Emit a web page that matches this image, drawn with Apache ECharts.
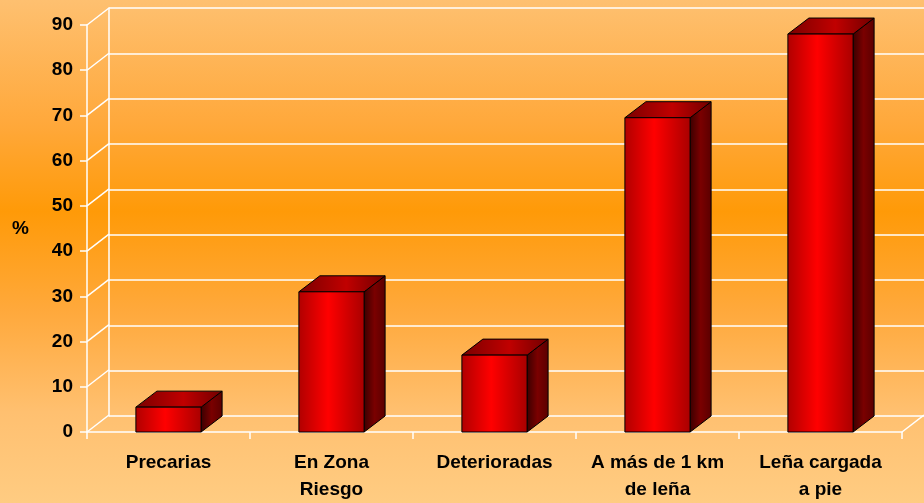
<!DOCTYPE html>
<html>
<head>
<meta charset="utf-8">
<script src="https://cdn.jsdelivr.net/npm/echarts@6/dist/echarts.min.js"></script>
<style>
html, body { margin: 0; padding: 0; }
#chart {
    width: 924px; height: 503px;
    background: linear-gradient(to bottom, #fec070 0%, #ffa83a 25%, #ff9a08 42%, #ffa93c 62%, #ffc070 82%, #ffcc82 100%);
}
</style>
</head>
<body>
<div id="chart"></div>
<script>
var categories = ['Precarias', 'En Zona\nRiesgo', 'Deterioradas', 'A más de 1 km\nde leña', 'Leña cargada\na pie'];
var values = [5.5, 31, 17, 69.5, 88];
var yTicks = [0, 10, 20, 30, 40, 50, 60, 70, 80, 90];

// profundidad 3D
var DX = 22, DY = -17;
var labelFont = 'Liberation Sans';

var myChart = echarts.init(document.getElementById('chart'));

function frontGrad() {
    return new echarts.graphic.LinearGradient(0, 0, 1, 0, [
        {offset: 0, color: '#b00000'},
        {offset: 0.45, color: '#ff0000'},
        {offset: 1, color: '#a80000'}
    ]);
}
function sideGrad() {
    return new echarts.graphic.LinearGradient(0, 0, 1, 0, [
        {offset: 0, color: '#3a0000'},
        {offset: 0.5, color: '#7a0000'},
        {offset: 1, color: '#5a0000'}
    ]);
}
function topGrad() {
    return new echarts.graphic.LinearGradient(0, 0, 1, 0, [
        {offset: 0, color: '#7a0000'},
        {offset: 0.55, color: '#c00000'},
        {offset: 1, color: '#700000'}
    ]);
}

var option = {
    animation: false,
    grid: [
        {left: 87, top: 25, width: 815, height: 408},   // plano frontal
        {left: 109, top: 8, width: 815, height: 408}    // pared del fondo
    ],
    xAxis: [{
        type: 'category',
        gridIndex: 0,
        data: categories,
        axisLine: {show: true, lineStyle: {color: '#fff', width: 1.5}},
        axisTick: {show: true, length: 7, lineStyle: {color: '#fff', width: 1.5}},
        axisLabel: {
            color: '#000', fontFamily: labelFont, fontWeight: 'bold', fontSize: 19,
            lineHeight: 27, margin: 17, interval: 0
        },
        splitLine: {show: false}
    }, {
        type: 'category',
        gridIndex: 1,
        data: categories,
        show: false
    }],
    yAxis: [{
        type: 'value',
        gridIndex: 0,
        min: 0, max: 90, interval: 10,
        name: '%',
        nameLocation: 'middle',
        nameRotate: 0,
        nameGap: 58,
        nameTextStyle: {color: '#000', fontFamily: labelFont, fontWeight: 'bold', fontSize: 19},
        axisLine: {show: true, lineStyle: {color: '#fff', width: 1.5}},
        axisTick: {show: true, length: 7, lineStyle: {color: '#fff', width: 1.5}},
        axisLabel: {color: '#000', fontFamily: labelFont, fontWeight: 'bold', fontSize: 19, margin: 14},
        splitLine: {show: false}
    }, {
        type: 'value',
        gridIndex: 1,
        min: 0, max: 90, interval: 10,
        axisLine: {show: true, lineStyle: {color: '#fff', width: 1.5}},
        axisTick: {show: false},
        axisLabel: {show: false},
        splitLine: {show: true, lineStyle: {color: '#fff', width: 1.5}}
    }],
    series: [{
        // lineas diagonales de la pared izquierda y del piso
        type: 'custom',
        xAxisIndex: 0,
        yAxisIndex: 0,
        silent: true,
        z: 1,
        data: yTicks.map(function (v) { return [0, v]; }),
        renderItem: function (params, api) {
            var v = api.value(1);
            var p = api.coord([0, v]);
            var w = api.size([1, 0])[0];
            var x0 = p[0] - w / 2;
            var children = [{
                type: 'line',
                shape: {x1: x0, y1: p[1], x2: x0 + DX, y2: p[1] + DY},
                style: {stroke: '#fff', lineWidth: 1.5}
            }];
            if (v === 0) {
                var x1 = x0 + w * categories.length;
                children.push({
                    type: 'line',
                    shape: {x1: x1, y1: p[1], x2: x1 + DX, y2: p[1] + DY},
                    style: {stroke: '#fff', lineWidth: 1.5}
                });
            }
            return {type: 'group', children: children};
        }
    }, {
        // barras 3D
        type: 'custom',
        xAxisIndex: 0,
        yAxisIndex: 0,
        z: 5,
        data: values.map(function (v, i) { return [i, v]; }),
        renderItem: function (params, api) {
            var i = api.value(0);
            var base = api.coord([i, 0]);
            var top = api.coord([i, api.value(1)]);
            var hw = api.size([1, 0])[0] * 0.2;
            var l = base[0] - hw, r = base[0] + hw;
            var b = base[1], t = top[1];
            var dx = DX - 1, dy = DY + 1;
            return {
                type: 'group',
                children: [{
                    type: 'polygon',
                    shape: {points: [[r, b], [r + dx, b + dy], [r + dx, t + dy], [r, t]]},
                    style: {fill: sideGrad(), stroke: '#000', lineWidth: 1}
                }, {
                    type: 'polygon',
                    shape: {points: [[l, t], [l + dx, t + dy], [r + dx, t + dy], [r, t]]},
                    style: {fill: topGrad(), stroke: '#000', lineWidth: 1}
                }, {
                    type: 'rect',
                    shape: {x: l, y: t, width: r - l, height: b - t},
                    style: {fill: frontGrad(), stroke: '#000', lineWidth: 1}
                }]
            };
        }
    }]
};

myChart.setOption(option);
</script>
</body>
</html>
